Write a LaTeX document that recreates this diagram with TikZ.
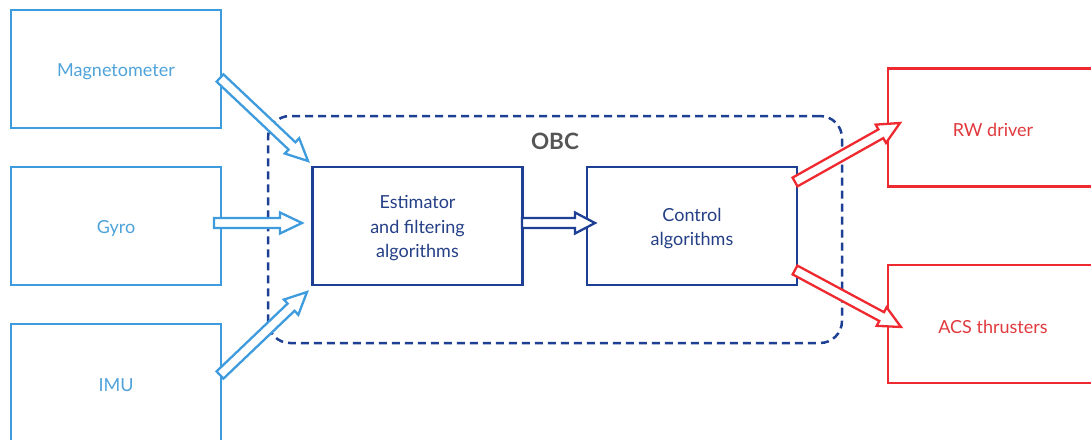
\documentclass[tikz,border=0pt]{standalone}
\usepackage{fontspec}
\setmainfont{Lato}
\usetikzlibrary{calc}
\definecolor{sblue}{HTML}{3D9BDE}
\definecolor{sbluetext}{HTML}{4FA3DA}
\definecolor{dblue}{HTML}{1D3F94}
\definecolor{dbluetext}{HTML}{243F86}
\definecolor{ared}{HTML}{EE2A30}
\definecolor{aredtext}{HTML}{E0393E}
\definecolor{obcgray}{HTML}{555555}
\tikzset{
  box/.style={draw, line width=2.5pt, minimum width=210pt, minimum height=118pt, inner sep=0pt},
  boxtext/.style={align=center, inner sep=0pt, yshift=-2.5pt, font=\fontsize{18}{24.5}\selectfont},
  sensor/.style={box, draw=sblue, label={[boxtext, text=sbluetext]center:#1}},
  inner/.style={box, draw=dblue, label={[boxtext, text=dbluetext]center:#1}},
  actuator/.style={box, draw=ared, label={[boxtext, text=aredtext]center:#1}},
  hollow/.style={line width=2.3pt, fill=white, line join=miter,
    to path={let \p1=(\tikztostart), \p2=(\tikztotarget), \p3=($(\p2)!#1!(\p1)$) in
      ($(\p1)!5pt!90:(\p2)$) -- ($(\p3)!5pt!90:(\p2)$) -- ($(\p3)!10.5pt!90:(\p2)$) -- (\p2)
      -- ($(\p3)!10.5pt!-90:(\p2)$) -- ($(\p3)!5pt!-90:(\p2)$) -- ($(\p1)!5pt!-90:(\p2)$) -- cycle}},
  hollow/.default=22pt
}
\begin{document}
\begin{tikzpicture}[x=1pt,y=-1pt]
\useasboundingbox (0,0) rectangle (1091,439);
\clip (0,0) rectangle (1091,439);
% OBC
\node[draw=dblue, dash pattern=on 8pt off 5pt, line width=2.5pt, rounded corners=22pt,
      minimum width=574pt, minimum height=227pt, inner sep=0pt] (obc) at (555,229.5) {};
\node[font=\fontsize{22.5}{26}\selectfont\bfseries, text=obcgray] (obclabel) at (555,141) {OBC};
% sensors
\node[sensor={Magnetometer}] (mag) at (116,69) {};
\node[sensor={Gyro}] (gyro) at (116,226) {};
\node[sensor={IMU}] (imu) at (116,383) {};
% inner
\node[inner={Estimator\\and filtering\\algorithms}] (est) at (417.5,226) {};
\node[inner={Control\\algorithms}] (ctl) at (692,226) {};
% actuators
\node[actuator={RW driver}] (rw) at (993,127.5) {};
\node[actuator={ACS thrusters}] (acs) at (993,324) {};
% arrow ends
\coordinate (magT) at (220,78);
\coordinate (magH) at (308,161);
\coordinate (gyroT) at (214,223);
\coordinate (gyroH) at (302,223);
\coordinate (imuT) at (220,375);
\coordinate (imuH) at (307,292);
\coordinate (estT) at (522,223);
\coordinate (estH) at (595,223);
\coordinate (rwT) at (795,182);
\coordinate (rwH) at (900,123);
\coordinate (acsT) at (795,270);
\coordinate (acsH) at (901,327);
% arrows
\draw[hollow, draw=sblue] (magT) to (magH);
\draw[hollow, draw=sblue] (gyroT) to (gyroH);
\draw[hollow, draw=sblue] (imuT) to (imuH);
\draw[hollow=20pt, draw=dblue] (estT) to (estH);
\draw[hollow, draw=ared] (rwT) to (rwH);
\draw[hollow, draw=ared] (acsT) to (acsH);
\end{tikzpicture}
\end{document}
